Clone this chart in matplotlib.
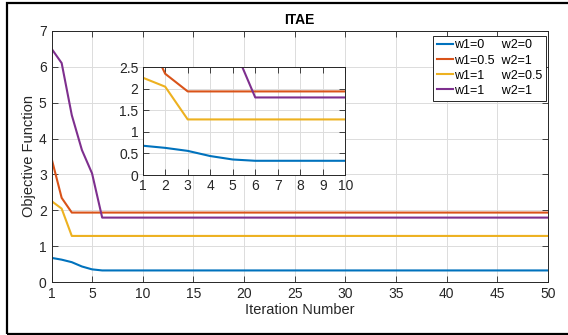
import numpy as np
import matplotlib
matplotlib.use("Agg")
import matplotlib.pyplot as plt
from matplotlib.patches import Rectangle

plt.rcParams['font.family'] = ['Liberation Sans', 'DejaVu Sans']
plt.rcParams['font.size'] = 10

# Objective function per iteration for each weighting (iterations 1..50)
n_iter = 50
iters = np.arange(1, n_iter + 1)

# first few iterations, after which each run stays converged
blue_head = [0.68, 0.63, 0.56, 0.44, 0.36, 0.33]
orange_head = [3.45, 2.35, 1.94]
yellow_head = [2.26, 2.05, 1.29]
purple_head = [6.5, 6.1, 4.65, 3.68, 3.03, 1.80]

def pad(head):
    return np.array(head + [head[-1]] * (n_iter - len(head)))

series = [pad(blue_head), pad(orange_head), pad(yellow_head), pad(purple_head)]
labels = ['w1=0     w2=0', 'w1=0.5  w2=1', 'w1=1     w2=0.5', 'w1=1     w2=1']
colors = ['#0072BD', '#D95319', '#EDB120', '#7E2F8E']

grid_kw = dict(color='#dcdcdc', linewidth=0.7)
ink = '#262626'

fig = plt.figure(figsize=(5.68, 3.35), dpi=100)
ax = fig.add_axes([0.0907, 0.1573, 0.8741, 0.7511])
for y, lab, c in zip(series, labels, colors):
    ax.plot(iters, y, color=c, linewidth=1.5, label=lab)
ax.set_xlim(1, 50)
ax.set_ylim(0, 7)
ax.set_xticks([1, 5, 10, 15, 20, 25, 30, 35, 40, 45, 50])
ax.set_yticks(range(0, 8))
ax.grid(True, **grid_kw)
ax.set_axisbelow(True)
ax.tick_params(direction='in', top=True, right=True, length=4, width=0.6,
               colors=ink, labelcolor=ink, labelsize=10)
for s in ax.spines.values():
    s.set_linewidth(0.7)
    s.set_color(ink)
ax.set_xlabel('Iteration Number', color=ink, fontsize=10.5, labelpad=1)
ax.set_ylabel('Objective Function', color=ink, fontsize=10.5, labelpad=2)
ax.set_title('ITAE', fontweight='bold', fontsize=10, pad=5)

leg = ax.legend(loc='upper right', bbox_to_anchor=(0.996, 0.980), fancybox=False,
                edgecolor=ink, framealpha=1, fontsize=9, handlelength=1.35,
                handletextpad=0.05, borderpad=0.3, labelspacing=0.25,
                borderaxespad=0)
leg.get_frame().set_linewidth(0.7)

# zoomed view of the first ten iterations
ins = fig.add_axes([0.2512, 0.4776, 0.3567, 0.3215])
for y, c in zip(series, colors):
    ins.plot(iters, y, color=c, linewidth=1.5)
ins.set_xlim(1, 10)
ins.set_ylim(0, 2.5)
ins.set_xticks(range(1, 11))
ins.set_yticks([0, 0.5, 1, 1.5, 2, 2.5])
ins.set_yticklabels(['0', '0.5', '1', '1.5', '2', '2.5'])
ins.grid(True, **grid_kw)
ins.set_axisbelow(True)
ins.tick_params(direction='in', top=True, right=True, length=4, width=0.6,
                colors=ink, labelcolor=ink, labelsize=10, pad=3)
for s in ins.spines.values():
    s.set_linewidth(0.7)
    s.set_color(ink)

# frame around the whole figure (runs off the right edge)
fig.patches.append(Rectangle((7 / 568, 1 / 335), 1.05, 331 / 335, transform=fig.transFigure,
                             fill=False, edgecolor='black', linewidth=1.6))

fig.savefig('out.png', dpi=100)
